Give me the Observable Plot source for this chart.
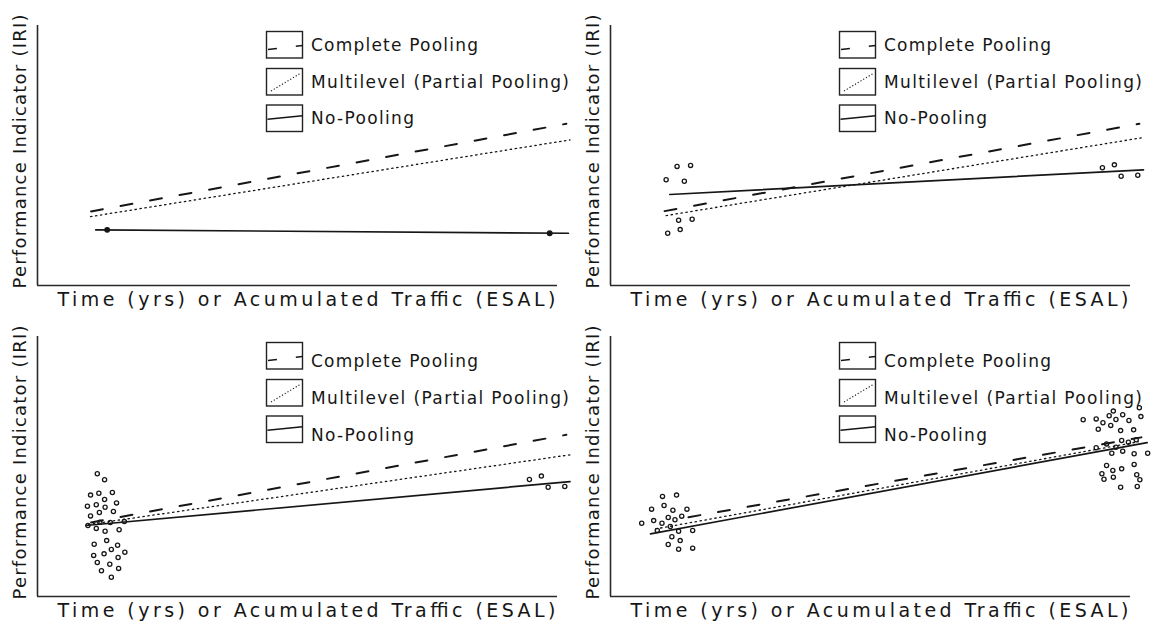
<!DOCTYPE html>
<html><head><meta charset="utf-8">
<script src="https://cdn.jsdelivr.net/npm/d3@7"></script>
<script src="https://cdn.jsdelivr.net/npm/@observablehq/plot@0.6"></script>
<style>
html,body{margin:0;padding:0;background:#fff;}
#chart{position:relative;width:1161px;height:624px;overflow:hidden;}
.panel{position:absolute;width:573px;height:312px;}
.panel svg{position:absolute;left:0;top:0;overflow:visible;}
</style></head><body><div id="chart"></div>
<script>
// ---------- data ----------
const xLabel = "Time (yrs) or Acumulated Traffic (ESAL)";
const yLabel = "Performance Indicator (IRI)";
const legendLabels = ["Complete Pooling", "Multilevel (Partial Pooling)", "No-Pooling"];

// fitted lines per panel: [xStart, yStart, xEnd, yEnd]
const completePooling = [
  [10.3, 28.5, 101.7, 62.2],
  [10.4, 28.6, 101.7, 62.2],
  [10.3, 28.5, 101.7, 62.2],
  [15.0, 30.5, 102.1, 61.2]
];
const multilevel = [
  [10.2, 26.5, 102.4, 56.0],
  [10.7, 26.9, 102.7, 57.0],
  [9.8, 27.7, 102.4, 54.5],
  [8.7, 26.0, 101.5, 59.5]
];
const noPooling = [
  [11.2, 21.4, 102.1, 20.1],
  [11.4, 35.0, 102.5, 44.5],
  [9.3, 27.3, 102.4, 44.2],
  [7.7, 24.1, 103.2, 59.2]
];

// observations per panel: [x, y]
const obsA = [[13.4, 21.4], [98.5, 20.1]];
const obsB = [
  [12.8, 45.8], [15.4, 46.2], [10.7, 40.7], [14.2, 40.1],
  [13.1, 25.1], [15.7, 25.5], [11.0, 20.1], [13.4, 21.5],
  [94.6, 45.3], [96.9, 46.4], [98.2, 42.0], [101.4, 42.4]
];
const obsC = [
  [11.5, 47.2], [12.9, 44.9], [10.2, 39.0], [11.8, 39.7], [14.4, 40.0],
  [12.9, 37.3], [15.2, 36.0], [9.6, 34.7], [11.3, 35.3], [13.0, 34.3],
  [14.6, 32.7], [10.2, 31.0], [11.9, 32.3], [9.7, 27.3], [12.0, 28.6],
  [14.0, 28.5], [16.7, 28.8], [11.3, 26.2], [13.0, 25.1], [15.7, 25.7],
  [13.3, 21.5], [10.9, 20.1], [15.4, 19.7], [14.2, 18.1], [16.8, 17.0],
  [10.8, 15.8], [12.8, 16.4], [15.5, 15.0], [11.5, 13.1], [13.9, 12.4],
  [12.3, 9.9], [15.6, 10.8], [14.2, 7.4],
  [94.6, 45.0], [96.9, 46.3], [98.2, 42.0], [101.4, 42.3]
];
const obsD = [
  [10.0, 38.5], [12.7, 39.0], [7.9, 33.6], [10.3, 35.0], [12.0, 33.2],
  [14.7, 33.6], [6.0, 28.2], [8.3, 29.2], [9.9, 28.2], [11.1, 30.4],
  [12.4, 29.5], [13.7, 30.9], [9.0, 25.4], [11.5, 26.9], [13.1, 25.1],
  [15.8, 25.4], [11.8, 23.0], [13.4, 21.5], [11.1, 20.0], [13.1, 18.2],
  [15.8, 18.6],
  [90.9, 68.0], [93.4, 68.3], [95.9, 69.5], [96.7, 71.3], [94.7, 66.8],
  [97.2, 68.1], [98.5, 69.9], [99.7, 67.7], [102.0, 69.2], [93.8, 64.3],
  [96.2, 65.8], [98.1, 63.8], [100.6, 64.1], [101.7, 72.6], [93.4, 57.2],
  [95.4, 58.7], [97.2, 57.4], [98.3, 60.0], [99.6, 59.3], [101.1, 60.3],
  [96.4, 55.1], [98.5, 55.9], [100.7, 54.9], [103.3, 55.1], [95.4, 50.4],
  [96.6, 48.5], [98.3, 49.1], [100.7, 50.8], [94.5, 47.2], [94.9, 45.1],
  [96.7, 45.9], [101.2, 46.8], [101.8, 44.9], [98.1, 42.0], [101.3, 42.3]
];
const observations = [obsA, obsB, obsC, obsD];

// ---------- layout / style ----------
const FONT = "'DejaVu Sans', sans-serif";
const INK = "#161616";
const PW = 573, PH = 312;
const panelOrigins = [[0, 0], [573, 0], [0, 311], [573, 311]];
const textWidths = {};
textWidths[xLabel] = 498;
textWidths[yLabel] = 274;
const legendTextWidths = [167, 258, 103];
const legendBoxTops = [31.5, 68.5, 105];
const legendTextOffset = [0, 0, 5.5, 5.5];

function seg(a) { return [{x: a[0], y: a[1]}, {x: a[2], y: a[3]}]; }

const chart = document.getElementById("chart");

observations.forEach((obs, i) => {
  const div = document.createElement("div");
  div.className = "panel";
  div.style.left = panelOrigins[i][0] + "px";
  div.style.top = panelOrigins[i][1] + "px";
  chart.appendChild(div);

  const svg = Plot.plot({
    width: PW, height: PH,
    marginLeft: 37, marginRight: 16, marginTop: 25, marginBottom: 27,
    x: {domain: [0, 100], axis: null},
    y: {domain: [0, 100], axis: null},
    style: {fontFamily: FONT, background: "transparent", overflow: "visible", color: INK},
    marks: [
      Plot.ruleY([0], {stroke: "#2a2a2a", strokeWidth: 1.6}),
      Plot.ruleX([0], {stroke: "#2a2a2a", strokeWidth: 1.6}),
      Plot.line(seg(completePooling[i]), {x: "x", y: "y", stroke: INK, strokeWidth: 2, strokeDasharray: "12,18"}),
      Plot.line(seg(multilevel[i]), {x: "x", y: "y", stroke: INK, strokeWidth: 1.3, strokeDasharray: "1.4,3.6"}),
      Plot.line(seg(noPooling[i]), {x: "x", y: "y", stroke: INK, strokeWidth: 1.7}),
      Plot.dot(obs, {x: d => d[0], y: d => d[1], r: i === 0 ? 2.3 : 2.1,
        stroke: INK, strokeWidth: 1.3, fill: i === 0 ? INK : "none"}),
      Plot.text([yLabel], {text: d => d, frameAnchor: "left", rotate: -90, dx: -17, dy: -4,
        fontSize: 18, fill: INK, textAnchor: "middle", lineAnchor: "middle"}),
      Plot.text([xLabel], {text: d => d, frameAnchor: "bottom-left", dx: 20, dy: 14,
        fontSize: 19, fill: INK, textAnchor: "start", lineAnchor: "middle"})
    ]
  });
  d3.select(svg).selectAll("text").each(function () {
    const w = textWidths[this.textContent];
    if (w) { this.setAttribute("textLength", w); this.setAttribute("lengthAdjust", "spacing"); }
  });
  div.appendChild(svg);

  // legend overlay
  const lg = d3.select(div).append("svg")
    .attr("width", PW).attr("height", PH)
    .style("pointer-events", "none")
    .style("font-family", FONT);
  legendLabels.forEach((label, j) => {
    const top = legendBoxTops[j];
    const g = lg.append("g").attr("transform", `translate(266.5,${top})`);
    g.append("rect").attr("width", 36).attr("height", 26.5)
      .attr("fill", "none").attr("stroke", "#222").attr("stroke-width", 1.4);
    if (j === 0) {
      g.append("line").attr("x1", 1.5).attr("y1", 18).attr("x2", 36).attr("y2", 14)
        .attr("stroke", INK).attr("stroke-width", 1.6).attr("stroke-dasharray", "9,19");
    } else if (j === 1) {
      g.append("line").attr("x1", 4.5).attr("y1", 22.5).attr("x2", 34.5).attr("y2", 4.5)
        .attr("stroke", INK).attr("stroke-width", 1.1).attr("stroke-dasharray", "1.2,2");
    } else {
      g.append("line").attr("x1", 1).attr("y1", 14.3).attr("x2", 36).attr("y2", 10.7)
        .attr("stroke", INK).attr("stroke-width", 1.5);
    }
    lg.append("text")
      .attr("x", 311).attr("y", top + 13.2 + legendTextOffset[i] + 6.2)
      .attr("font-size", 17).attr("fill", INK)
      .attr("textLength", legendTextWidths[j]).attr("lengthAdjust", "spacing")
      .text(label);
  });
});
</script></body></html>
